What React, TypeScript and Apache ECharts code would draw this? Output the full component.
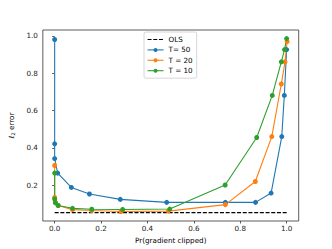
import React, { useEffect, useRef } from "react";
import * as echarts from "echarts";

const olsX = [0, 1.0];
const olsY = [0.052, 0.052];

const t50X = [0, 0, 0, 0.013, 0.072, 0.15, 0.283, 0.483, 0.736, 0.866, 0.933, 0.979, 0.99, 1.0];
const t50Y = [0.981, 0.421, 0.342, 0.264, 0.187, 0.152, 0.123, 0.107, 0.107, 0.107, 0.157, 0.46, 0.681, 0.927];

const t20X = [0, 0, 0.003, 0.015, 0.077, 0.16, 0.286, 0.49, 0.736, 0.865, 0.936, 0.977, 0.993, 1.002];
const t20Y = [0.305, 0.134, 0.107, 0.09, 0.068, 0.063, 0.058, 0.06, 0.095, 0.219, 0.46, 0.742, 0.861, 0.97];

const t10X = [0, 0, 0.003, 0.015, 0.077, 0.16, 0.293, 0.496, 0.735, 0.871, 0.938, 0.977, 0.991, 1.0];
const t10Y = [0.264, 0.125, 0.105, 0.09, 0.075, 0.07, 0.069, 0.071, 0.2, 0.455, 0.681, 0.861, 0.927, 0.986];

const tickVals = [0, 0.2, 0.4, 0.6, 0.8, 1.0];

const zip = (xs: number[], ys: number[]) => xs.map((x, i) => [x, ys[i]]);

const FONT = "DejaVu Sans";

export default function App() {
  const ref = useRef<HTMLDivElement>(null);
  useEffect(() => {
    if (!ref.current) return;
    const chart = echarts.init(ref.current, undefined, { renderer: "svg" });
    const mk = (name: string, color: string, xs: number[], ys: number[]) => ({
      name,
      type: "line",
      data: zip(xs, ys),
      symbol: "circle",
      symbolSize: 5,
      lineStyle: { color, width: 1.1 },
      itemStyle: { color },
      emphasis: { disabled: true },
    });
    chart.setOption({
      animation: false,
      textStyle: { fontFamily: FONT },
      grid: {
        left: 41,
        top: 30,
        right: 33.3,
        bottom: 28,
        show: true,
        borderColor: "#333",
        borderWidth: 0.8,
        backgroundColor: "transparent",
      },
      legend: {
        orient: "vertical",
        left: 144,
        top: 32,
        itemWidth: 16,
        itemHeight: 5,
        itemGap: 2.4,
        padding: [3.5, 4, 3.5, 3],
        borderColor: "#cccccc",
        borderWidth: 0.8,
        borderRadius: 2,
        backgroundColor: "rgba(255,255,255,0.8)",
        lineStyle: { width: 1.1 },
        textStyle: { fontSize: 7.2, fontFamily: FONT, color: "#000", lineHeight: 8 },
        data: [
          { name: "OLS", itemStyle: { opacity: 0 } },
          "T= 50",
          "T = 20",
          "T = 10",
        ],
      },
      xAxis: {
        type: "value",
        min: -0.051,
        max: 1.052,
        splitLine: { show: false },
        axisLine: { show: false },
        axisTick: { show: true, length: 2.5, lineStyle: { color: "#333", width: 0.8 }, customValues: tickVals },
        axisLabel: {
          fontSize: 7.2,
          color: "#222",
          fontFamily: FONT,
          margin: 4,
          customValues: tickVals,
          formatter: (v: number) => v.toFixed(1),
        },
        name: "Pr(gradient clipped)",
        nameLocation: "middle",
        nameGap: 14.5,
        nameTextStyle: { fontSize: 7.2, color: "#000", fontFamily: FONT },
      },
      yAxis: {
        type: "value",
        min: 0.007,
        max: 1.032,
        splitLine: { show: false },
        axisLine: { show: false },
        axisTick: { show: true, length: 2.5, lineStyle: { color: "#333", width: 0.8 }, customValues: tickVals.slice(1) },
        axisLabel: {
          fontSize: 7.2,
          color: "#222",
          fontFamily: FONT,
          margin: 5,
          customValues: tickVals.slice(1),
          formatter: (v: number) => v.toFixed(1),
        },
        name: "{l|ℓ}{s|2} error",
        nameLocation: "middle",
        nameGap: 19,
        nameRotate: 90,
        nameTextStyle: {
          fontSize: 7.2,
          color: "#000",
          fontFamily: FONT,
          rich: {
            l: { fontSize: 7.2, fontFamily: FONT, fontStyle: "italic" },
            s: { fontSize: 5, fontFamily: FONT, verticalAlign: "bottom", padding: [3, 0, 0, 0] },
          },
        },
      },
      series: [
        {
          name: "OLS",
          type: "line",
          data: zip(olsX, olsY),
          symbol: "none",
          lineStyle: { color: "#000", width: 1.1, type: [4, 1.7] },
          itemStyle: { color: "#000" },
          emphasis: { disabled: true },
        },
        mk("T= 50", "#1f77b4", t50X, t50Y),
        mk("T = 20", "#ff7f0e", t20X, t20Y),
        mk("T = 10", "#2ca02c", t10X, t10Y),
      ],
    });
    return () => chart.dispose();
  }, []);
  return (
    <div
      ref={ref}
      style={{ position: "fixed", left: 0, top: 0, width: 332, height: 249, background: "#fff" }}
    />
  );
}
